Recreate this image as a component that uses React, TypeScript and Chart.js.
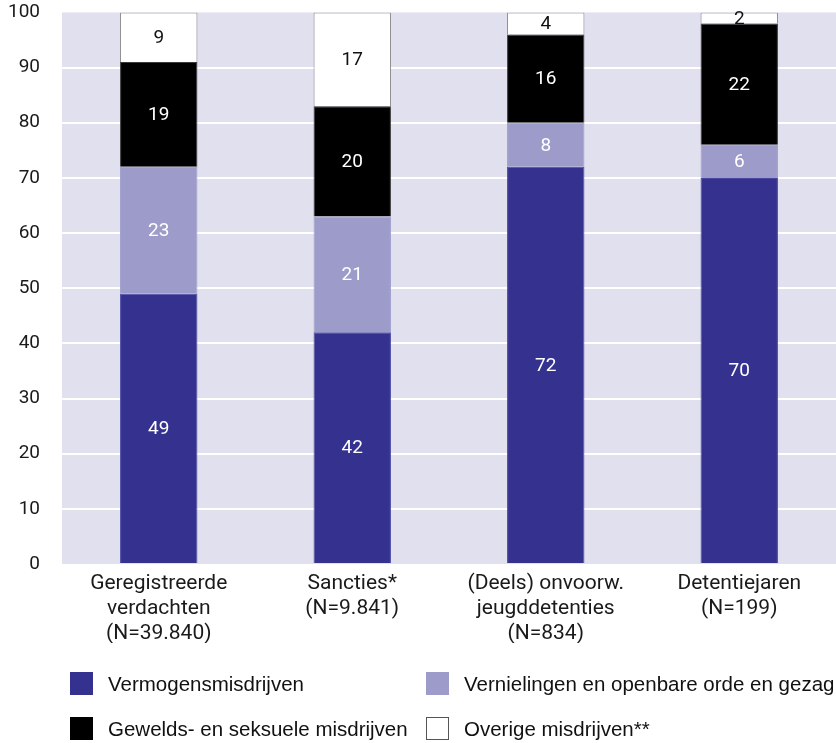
import React, { useEffect, useRef } from "react";
import { Chart, registerables } from "chart.js";

Chart.register(...registerables);

const categories: string[][] = [
  ["Geregistreerde", "verdachten", "(N=39.840)"],
  ["Sancties*", "(N=9.841)"],
  ["(Deels) onvoorw.", "jeugddetenties", "(N=834)"],
  ["Detentiejaren", "(N=199)"],
];
const seriesNames = [
  "Vermogensmisdrijven",
  "Vernielingen en openbare orde en gezag",
  "Gewelds- en seksuele misdrijven",
  "Overige misdrijven**",
];
const vermogens = [49, 42, 72, 70];
const vernielingen = [23, 21, 8, 6];
const gewelds = [19, 20, 16, 22];
const overige = [9, 17, 4, 2];
const yTicks = [0, 10, 20, 30, 40, 50, 60, 70, 80, 90, 100];

const colors = ["#35318f", "#9d9bc9", "#000000", "#ffffff"];
const borders = ["#4a47a0", "#9d9bc9", "#3a3a3a", "#8a8a8a"];
const labelColors = ["#ffffff", "#ffffff", "#ffffff", "#111111"];

const OFF = 21;
const CANVAS_H = 743 + OFF;

const bgPlugin = {
  id: "plotBg",
  beforeDraw(chart: any) {
    const { ctx, chartArea } = chart;
    ctx.save();
    ctx.fillStyle = "#e1e0ef";
    ctx.fillRect(chartArea.left, chartArea.top, chartArea.right - chartArea.left, chartArea.bottom - chartArea.top);
    ctx.restore();
  },
};

const labelPlugin = {
  id: "segLabels",
  afterDatasetsDraw(chart: any) {
    const { ctx } = chart;
    ctx.save();
    ctx.font = "19px Roboto";
    ctx.textAlign = "center";
    ctx.textBaseline = "middle";
    chart.data.datasets.forEach((ds: any, di: number) => {
      const meta = chart.getDatasetMeta(di);
      meta.data.forEach((el: any, i: number) => {
        const v = ds.data[i];
        const top = Math.min(el.y, el.base);
        const bot = Math.max(el.y, el.base);
        ctx.fillStyle = labelColors[di];
        ctx.fillText(String(v), el.x, (top + bot) / 2 + 1);
      });
    });
    ctx.restore();
  },
};

const legendPlugin = {
  id: "gridLegend",
  afterDraw(chart: any) {
    const { ctx } = chart;
    const cols = [70, 426];
    const rows = [672 + OFF, 717 + OFF];
    ctx.save();
    ctx.font = "20.5px 'Liberation Sans', Arial, sans-serif";
    ctx.textBaseline = "middle";
    ctx.textAlign = "left";
    seriesNames.forEach((name, i) => {
      const x = cols[i % 2];
      const y = rows[Math.floor(i / 2)];
      ctx.fillStyle = colors[i];
      ctx.fillRect(x, y, 23, 23);
      if (i === 3) {
        ctx.strokeStyle = "#555";
        ctx.lineWidth = 1;
        ctx.strokeRect(x + 0.5, y + 0.5, 22, 22);
      }
      ctx.fillStyle = "#111";
      ctx.fillText(name, x + 38, y + 13);
    });
    ctx.restore();
  },
};

export default function App() {
  const ref = useRef<HTMLCanvasElement | null>(null);
  useEffect(() => {
    if (!ref.current) return;
    const series = [vermogens, vernielingen, gewelds, overige];
    const chart = new Chart(ref.current, {
      type: "bar",
      data: {
        labels: categories,
        datasets: series.map((d, i) => ({
          label: seriesNames[i],
          data: d,
          backgroundColor: colors[i],
          borderColor: borders[i],
          borderWidth: 1,
          barPercentage: 0.4,
          categoryPercentage: 1,
        })),
      },
      options: {
        responsive: false,
        animation: false,
        maintainAspectRatio: false,
        layout: { padding: { top: -8, right: 0, bottom: 100, left: 0 } },
        plugins: { legend: { display: false }, tooltip: { enabled: false } },
        scales: {
          x: {
            stacked: true,
            grid: { display: false, drawTicks: false },
            border: { display: false },
            ticks: {
              color: "#1a1a1a",
              font: { family: "Roboto", size: 21, lineHeight: 1.2 },
              padding: 7,
              maxRotation: 0,
              autoSkip: false,
            },
            afterFit(scale: any) {
              scale.height = 79;
            },
          },
          y: {
            stacked: true,
            min: 0,
            max: 100,
            afterBuildTicks(scale: any) {
              scale.ticks = yTicks.map((v) => ({ value: v }));
            },
            grid: {
              color: (c: any) => (c.tick && (c.tick.value === 0 || c.tick.value === 100) ? "rgba(0,0,0,0)" : "#ffffff"),
              lineWidth: 2,
              drawTicks: false,
            },
            border: { display: false },
            ticks: {
              color: "#1a1a1a",
              font: { family: "Roboto", size: 19 },
              padding: 22,
            },
            afterFit(scale: any) {
              scale.width = 62;
            },
          },
        },
      },
      plugins: [bgPlugin, labelPlugin, legendPlugin],
    });
    return () => chart.destroy();
  }, []);
  return (
    <div style={{ position: "absolute", left: 0, top: 0, width: 836, height: 743, overflow: "hidden", background: "#fff" }}>
      <canvas
        ref={ref}
        width={836}
        height={CANVAS_H}
        style={{ display: "block", position: "absolute", left: 0, top: -OFF, width: 836, height: CANVAS_H }}
      />
    </div>
  );
}
